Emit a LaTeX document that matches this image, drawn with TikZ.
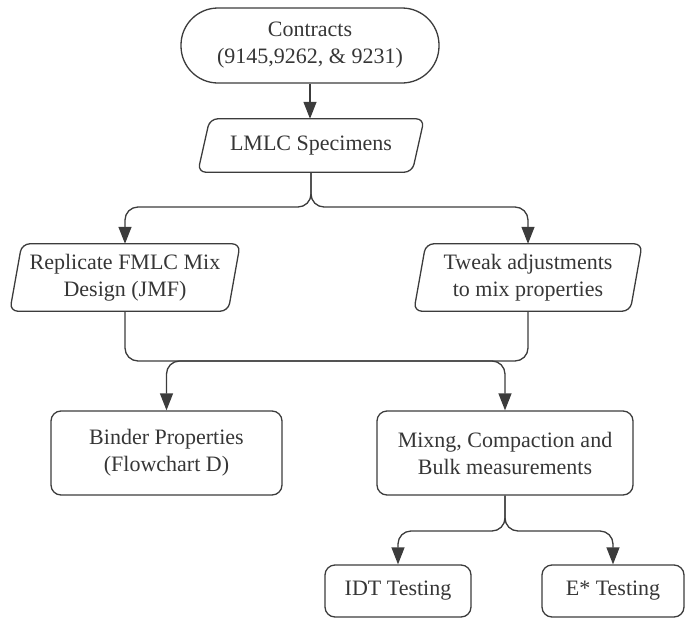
\documentclass[tikz,border=0pt]{standalone}
\usepackage{fontspec}
\setmainfont{Liberation Serif}
\usetikzlibrary{arrows.meta}
\definecolor{ink}{HTML}{3C3C3C}
\definecolor{txt}{HTML}{363636}

% outline of a slanted (parallelogram) box around a named node
\newcommand\slantoutline[1]{%
  \draw[draw=ink, line width=1.3pt, rounded corners=8pt]
    ([xshift=12pt]#1.north west) -- (#1.north east) --
    ([xshift=-12pt]#1.south east) -- (#1.south west) -- cycle;}

\begin{document}
\begin{tikzpicture}[x=1pt, y=-1pt,
  font=\fontsize{22}{27}\selectfont, text=txt,
  frame/.style={draw=ink, line width=1.3pt, rounded corners=10pt,
                align=center, inner sep=0pt},
  slanted/.style={align=center, inner sep=0pt},
  link/.style={draw=ink, line width=1.3pt, rounded corners=13pt},
  arr/.style={link, -{Triangle[width=13pt,length=17pt]}}
]
\useasboundingbox (0,0) rectangle (686,619);

% boxes
\node[frame, rounded corners=37pt, minimum width=258pt, minimum height=75pt]
  (con) at (310,45.5) {Contracts\\(9145,9262, \& 9231)};

\node[slanted, minimum width=226pt, minimum height=53pt]
  (lmlc) at (311,145.5) {LMLC Specimens};
\slantoutline{lmlc}

\node[slanted, minimum width=230pt, minimum height=67pt]
  (rep) at (125,277.5) {Replicate FMLC Mix\\Design (JMF)};
\slantoutline{rep}

\node[slanted, minimum width=228pt, minimum height=67pt]
  (twk) at (528,277.5) {Tweak adjustments\\to mix properties};
\slantoutline{twk}

\node[frame, minimum width=231pt, minimum height=84pt]
  (bnd) at (166.5,453) {Binder Properties\\(Flowchart D)};

\node[frame, minimum width=256pt, minimum height=84pt]
  (mix) at (505,453) {Mixng, Compaction and\\Bulk measurements};

\node[frame, minimum width=146pt, minimum height=52pt]
  (idt) at (398,591) {IDT Testing};

\node[frame, minimum width=142pt, minimum height=52pt]
  (est) at (613,591) {E* Testing};

% branch and merge points
\coordinate (f1) at (311,207);
\coordinate (m)  at (336,361);
\coordinate (f3) at (505,531);

% connectors
\draw[arr] (con.south) -- (con.south |- lmlc.north);

\draw[arr] (lmlc.south) |- (rep.north |- f1) -- (rep.north);
\draw[arr] (lmlc.south) |- (twk.north |- f1) -- (twk.north);

\draw[link] (rep.south) |- (m) -| (twk.south);
\draw[arr] (m) -| (bnd.north);
\draw[arr] (m) -| (mix.north);

\draw[arr] (mix.south) |- (idt.north |- f3) -- (idt.north);
\draw[arr] (mix.south) |- (est.north |- f3) -- (est.north);
\end{tikzpicture}
\end{document}
